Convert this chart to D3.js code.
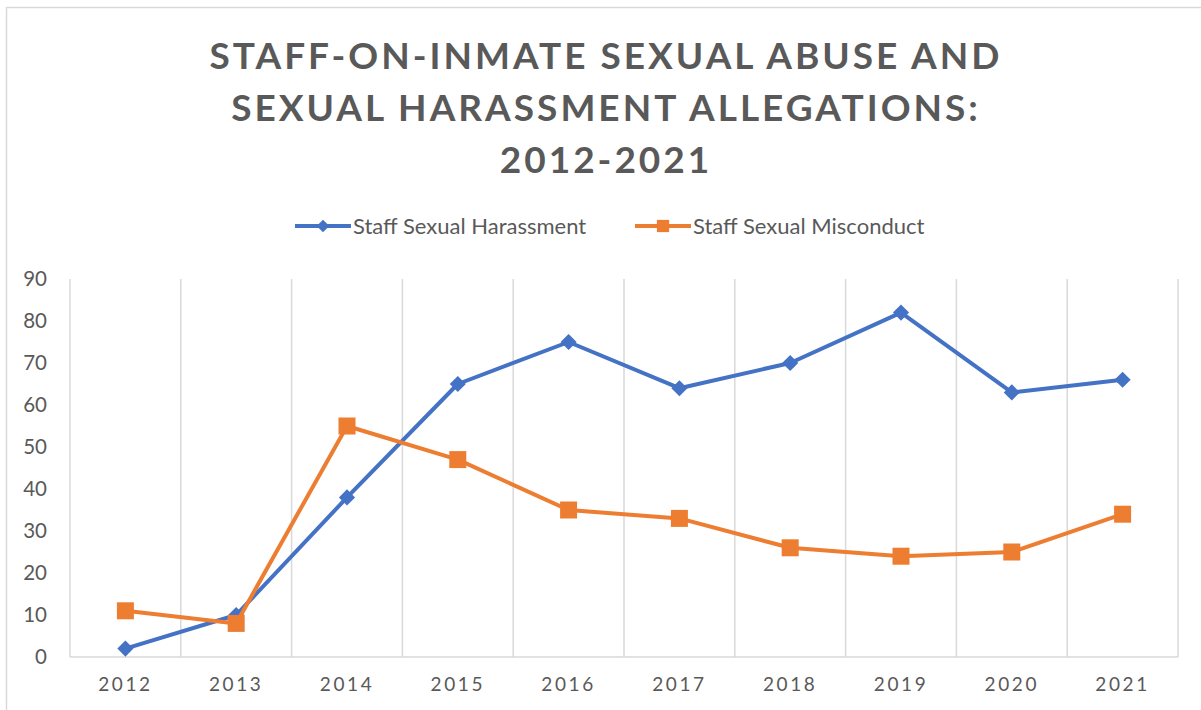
<!DOCTYPE html>
<html lang="en">
<head>
    <meta charset="UTF-8">
    <title>Staff-on-inmate allegations</title>
    <script src="https://cdn.jsdelivr.net/npm/d3@7"></script>
    <style>
        body{margin:0;background:#fff;}
        text{font-family:Lato,"Open Sans",sans-serif;fill:#595959;}
    </style>
</head>
<body>
<div class="chart"></div>
<script>
    //data
    const years=['2012','2013','2014','2015','2016','2017','2018','2019','2020','2021']
    const harassment=[2,10,38,65,75,64,70,82,63,66]
    const misconduct=[11,8,55,47,35,33,26,24,25,34]
    const yTicks=[0,10,20,30,40,50,60,70,80,90]
    const titleLines=['STAFF-ON-INMATE SEXUAL ABUSE AND','SEXUAL HARASSMENT ALLEGATIONS:','2012-2021']
    const seriesNames=['Staff Sexual Harassment','Staff Sexual Misconduct']

    const W=1201,H=710
    const plotLeft=70,plotRight=1178,plotTop=279,plotBottom=657
    const blue='#4472C4',orange='#ED7D31',grid='#d9d9d9'

    let svg=d3.select('.chart').append('svg').attr('width',W).attr('height',H)

    // outer chart border
    svg.append('rect').attr('x',6.5).attr('y',7.5).attr('width',W+20).attr('height',H+20)
        .attr('fill','none').attr('stroke',grid).attr('stroke-width',1.5)

    //title
    svg.append('g').selectAll('text').data(titleLines).join('text')
        .attr('x',606).attr('y',(d,i)=>69+i*52)
        .attr('text-anchor','middle')
        .style('font-size','37px').style('font-weight','700').style('letter-spacing','3px')
        .text(d=>d)

    //scales
    let xScale=d3.scaleBand().domain(years).range([plotLeft,plotRight])
    let yScale=d3.scaleLinear().domain([0,90]).range([plotBottom,plotTop])
    let cx=d=>xScale(d)+xScale.bandwidth()/2

    //vertical gridlines at category borders
    let edges=years.map(d=>xScale(d)).concat([plotRight])
    svg.append('g').selectAll('line').data(edges).join('line')
        .attr('x1',d=>d).attr('x2',d=>d).attr('y1',plotTop).attr('y2',plotBottom)
        .attr('stroke',grid).attr('stroke-width',1.5)
    svg.append('line').attr('x1',plotLeft).attr('x2',plotRight).attr('y1',plotBottom).attr('y2',plotBottom)
        .attr('stroke',grid).attr('stroke-width',1.5)

    //axes
    let yAxis=d3.axisLeft(yScale).tickValues(yTicks).tickSize(0).tickPadding(23)
    let gy=svg.append('g').attr('transform','translate('+plotLeft+',0)').call(yAxis)
    gy.select('.domain').remove()
    gy.selectAll('text').style('font-size','20.5px').attr('fill','#595959')

    let xAxis=d3.axisBottom(xScale).tickSize(0).tickPadding(21)
    let gx=svg.append('g').attr('transform','translate(0,'+plotBottom+')').call(xAxis)
    gx.select('.domain').remove()
    gx.selectAll('text').style('font-size','19px').style('letter-spacing','2.6px').attr('fill','#595959')

    //lines
    let line=d3.line().x((d,i)=>cx(years[i])).y(d=>yScale(d))
    let diamond=d3.symbol().type(d3.symbolSquare).size(130)
    let square=d3.symbol().type(d3.symbolSquare).size(289)

    function drawSeries(values,color,sym,rot){
        svg.append('path').datum(values).attr('d',line)
            .attr('fill','none').attr('stroke',color).attr('stroke-width',4).attr('stroke-linejoin','round')
        svg.append('g').selectAll('path').data(values).join('path')
            .attr('d',sym)
            .attr('transform',(d,i)=>'translate('+cx(years[i])+','+yScale(d)+') rotate('+rot+')')
            .attr('fill',color)
    }
    drawSeries(harassment,blue,diamond,45)
    drawSeries(misconduct,orange,square,0)

    //legend
    let legend=[{name:seriesNames[0],color:blue,x:295,sym:d3.symbol().type(d3.symbolSquare).size(80),rot:45},
        {name:seriesNames[1],color:orange,x:635,sym:d3.symbol().type(d3.symbolSquare).size(150),rot:0}]
    let lg=svg.append('g').selectAll('g').data(legend).join('g')
        .attr('transform',d=>'translate('+d.x+',226)')
    lg.append('line').attr('x1',0).attr('x2',56).attr('stroke',d=>d.color).attr('stroke-width',4)
    lg.append('path').attr('d',d=>d.sym()).attr('fill',d=>d.color)
        .attr('transform',d=>'translate(28,0) rotate('+d.rot+')')
    lg.append('text').attr('x',58).attr('y',8).style('font-size','22px').text(d=>d.name)
</script>
</body>
</html>
